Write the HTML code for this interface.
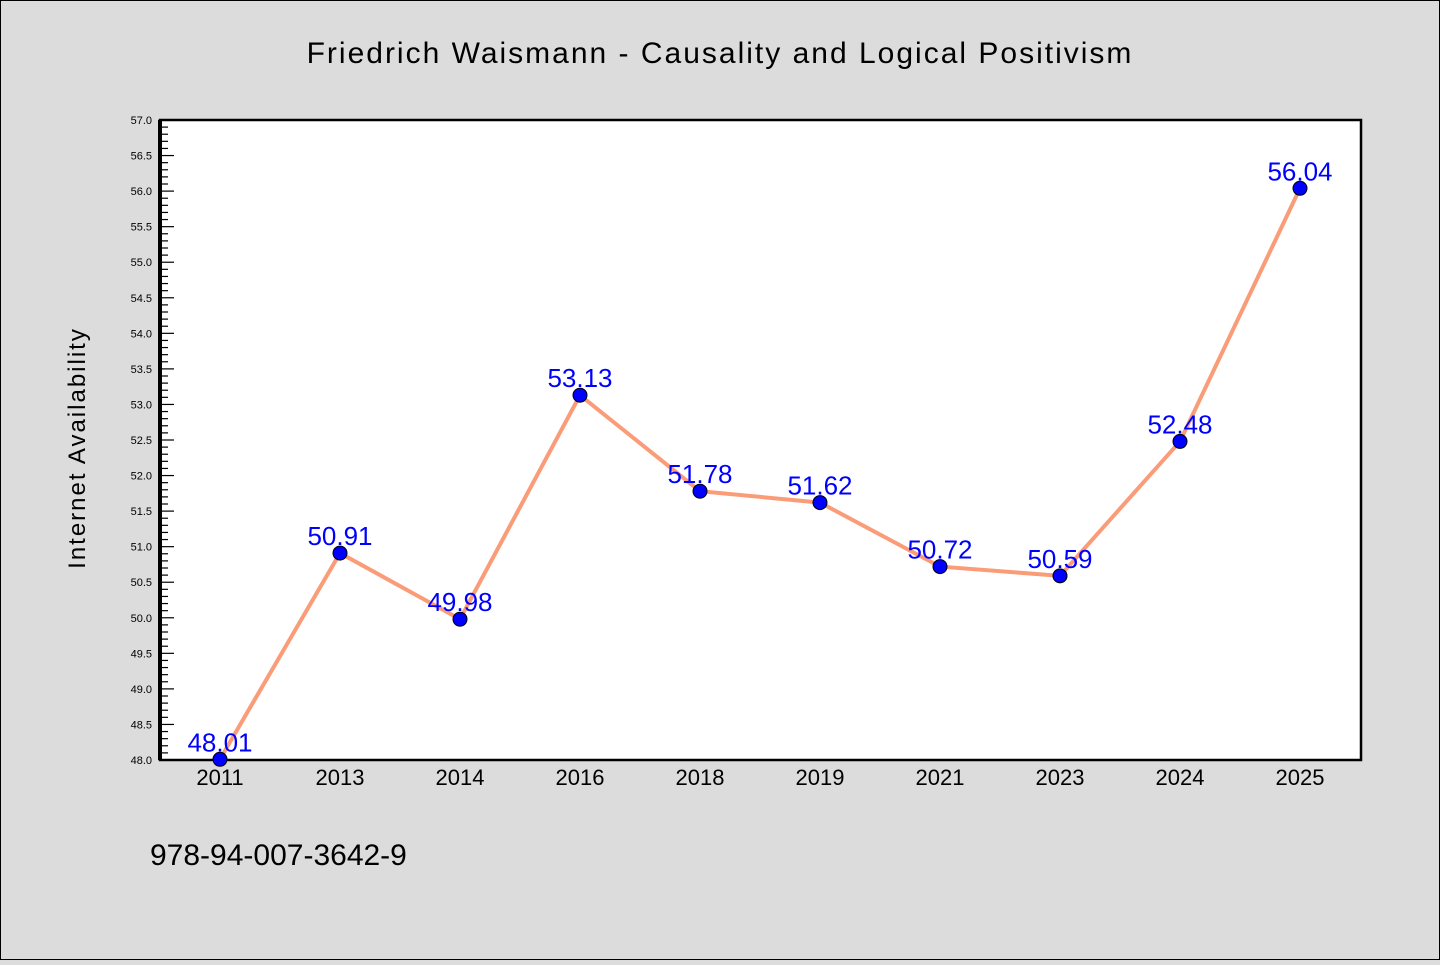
<!DOCTYPE html>
<html><head><meta charset="utf-8"><style>
body{margin:0;width:1440px;height:960px;background:#dcdcdc;overflow:hidden}
svg text{font-family:"WenQuanYi Zen Hei","Liberation Sans",sans-serif}
</style></head><body>
<svg id="c" width="1440" height="960">
<rect x="0.5" y="0.5" width="1439" height="959" fill="#dcdcdc" stroke="#000"/>
<text x="720" y="63" text-anchor="middle" font-size="30" letter-spacing="2">Friedrich Waismann - Causality and Logical Positivism</text>
<rect x="160" y="120" width="1201" height="640" fill="#fff" stroke="#000" stroke-width="2.5"/>
<text transform="translate(85,448) rotate(-90)" text-anchor="middle" font-size="24" letter-spacing="2">Internet Availability</text>
<text x="150" y="865" font-size="30">978-94-007-3642-9</text>
<g id="axes"></g><g id="series"></g>
</svg>
<script>
const categories=["2011","2013","2014","2016","2018","2019","2021","2023","2024","2025"];
const values=[48.01,50.91,49.98,53.13,51.78,51.62,50.72,50.59,52.48,56.04];
const yMin=48,yMax=57;
const NS="http://www.w3.org/2000/svg";
const L=160,R=1361,T=120,B=760;
const x=i=>L+60+i*(R-L-1)/categories.length;
const y=v=>B-(v-yMin)/(yMax-yMin)*(B-T);
function mk(t,a,p){const e=document.createElementNS(NS,t);for(const k in a)e.setAttribute(k,a[k]);p.appendChild(e);return e;}
const ax=document.getElementById('axes'),se=document.getElementById('series');
mk('line',{x1:L,y1:T,x2:L,y2:B,stroke:'#000','stroke-width':4},ax);
for(let k=0;k<=90;k++){const v=yMin+k*0.1,yy=y(v),maj=k%5===0;
const t=mk('line',{x1:L,y1:yy,x2:L+(maj?14:8),y2:yy,stroke:'#000','stroke-width':1.2},ax);


if(maj){const lb=mk('text',{x:L-8,y:yy+4,'text-anchor':'end','font-size':11},ax);lb.textContent=v.toFixed(1);

}}
categories.forEach((c,i)=>{const lb=mk('text',{x:x(i),y:785,'text-anchor':'middle','font-size':22},ax);lb.textContent=c;

});
const line=mk('polyline',{points:values.map((v,i)=>x(i)+','+y(v)).join(' '),fill:'none',stroke:'#fa9c78','stroke-width':4},se);


values.forEach((v,i)=>{const p=mk('circle',{cx:x(i),cy:y(v),r:7,fill:'#0000ff',stroke:'#000','stroke-width':1},se);


const t=mk('text',{x:x(i),y:y(v)-8,'text-anchor':'middle','font-size':26,fill:'#0000ff'},se);t.textContent=v.toFixed(2);

});
</script>
</body></html>
